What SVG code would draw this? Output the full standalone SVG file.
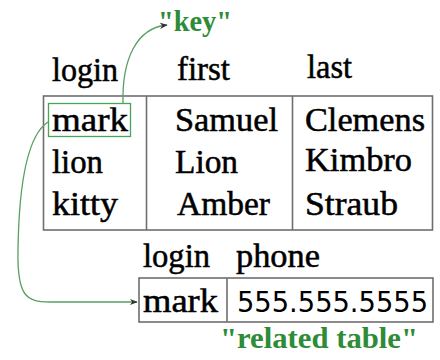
<svg xmlns="http://www.w3.org/2000/svg" width="440" height="360" viewBox="0 0 440 360">
<style>
.t{font-family:"Liberation Serif","Times New Roman",serif;font-size:33px;fill:#000;stroke:#000;stroke-width:0.5}
.n{font-family:"DejaVu Sans","Liberation Sans",sans-serif;font-size:28px;fill:#000}
.g{font-family:"Liberation Serif","Times New Roman",serif;font-size:29px;font-weight:bold;fill:#2e8b36}
.box{fill:none;stroke:#6e6e6e;stroke-width:1.6}
.key{fill:none;stroke:#4aa457;stroke-width:1.3}
.con{fill:none;stroke:#5a9e64;stroke-width:1.3}
</style>
<defs>
<marker id="ah" viewBox="0 0 10 10" refX="9" refY="5" markerWidth="8" markerHeight="8" markerUnits="userSpaceOnUse" orient="auto">
<path d="M0,1 L10,5 L0,9 L3,5 Z" fill="#333"/>
</marker>
</defs>
<g id="main-table">
<rect class="box" x="43.5" y="96" width="389" height="134"/>
<line class="box" x1="146.5" y1="96" x2="146.5" y2="230"/>
<line class="box" x1="292.5" y1="96" x2="292.5" y2="230"/>
<text class="t" x="52" y="81" textLength="66" lengthAdjust="spacingAndGlyphs">login</text>
<text class="t" x="177" y="80" textLength="53" lengthAdjust="spacingAndGlyphs">first</text>
<text class="t" x="307" y="78" textLength="45" lengthAdjust="spacingAndGlyphs">last</text>
<text class="t" x="52" y="131" textLength="76" lengthAdjust="spacingAndGlyphs">mark</text>
<text class="t" x="52" y="173" textLength="51" lengthAdjust="spacingAndGlyphs">lion</text>
<text class="t" x="52" y="215" textLength="66" lengthAdjust="spacingAndGlyphs">kitty</text>
<text class="t" x="175" y="131" textLength="103" lengthAdjust="spacingAndGlyphs">Samuel</text>
<text class="t" x="175" y="173" textLength="63" lengthAdjust="spacingAndGlyphs">Lion</text>
<text class="t" x="177" y="215" textLength="93" lengthAdjust="spacingAndGlyphs">Amber</text>
<text class="t" x="305" y="131" textLength="120" lengthAdjust="spacingAndGlyphs">Clemens</text>
<text class="t" x="305" y="171" textLength="107" lengthAdjust="spacingAndGlyphs">Kimbro</text>
<text class="t" x="305" y="215" textLength="93" lengthAdjust="spacingAndGlyphs">Straub</text>
</g>
<g id="key-box">
<rect class="key" x="48.5" y="103.5" width="82" height="33"/>
</g>
<g id="related-table">
<rect class="box" x="139" y="278" width="294" height="44"/>
<line class="box" x1="227" y1="278" x2="227" y2="322"/>
<text class="t" x="143" y="267" textLength="67" lengthAdjust="spacingAndGlyphs">login</text>
<text class="t" x="236" y="267" textLength="84" lengthAdjust="spacingAndGlyphs">phone</text>
<text class="t" x="143" y="312" textLength="75" lengthAdjust="spacingAndGlyphs">mark</text>
<text class="n" x="237" y="312" textLength="191" lengthAdjust="spacingAndGlyphs">555.555.5555</text>
</g>
<g id="labels">
<text class="g" x="158" y="31" textLength="74" lengthAdjust="spacingAndGlyphs">"key"</text>
<text class="g" x="220" y="348" textLength="198" lengthAdjust="spacingAndGlyphs">"related table"</text>
</g>
<g id="connectors">
<path class="con" d="M123,103 C122,60 136,28 167,25" marker-end="url(#ah)"/>
<path class="con" d="M48,122 C28,135 19,180 18,250 C17,296 26,302 50,302 L137,302" marker-end="url(#ah)"/>
</g>
</svg>
